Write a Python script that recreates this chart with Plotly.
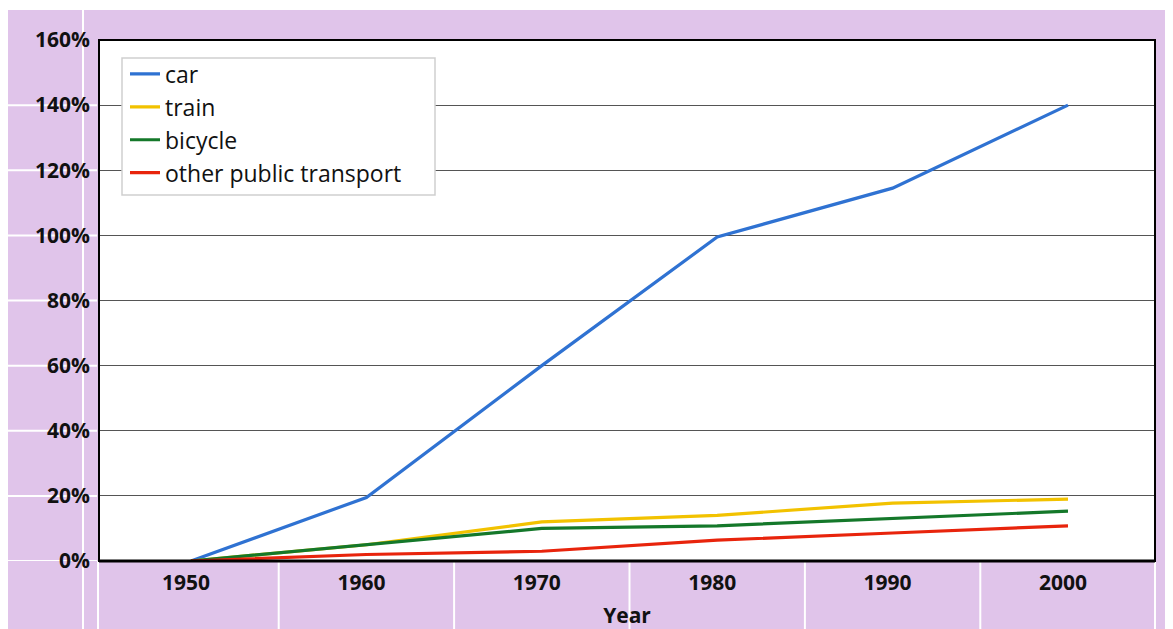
import plotly.graph_objects as go

years = [1950, 1960, 1970, 1980, 1990, 2000]
car = [0, 19.5, 60, 99.5, 114.5, 140]
train = [0, 5, 12, 14, 17.8, 19]
bicycle = [0, 5, 10, 10.8, 13, 15.3]
other = [0, 2, 3, 6.4, 8.6, 10.8]

series = [
    ("car", car, "#2f72d2"),
    ("train", train, "#f2c200"),
    ("bicycle", bicycle, "#14782a"),
    ("other public transport", other, "#e8240c"),
]

y_ticks = [0, 20, 40, 60, 80, 100, 120, 140, 160]

# page body has an 8px margin: figure placed at (8, 8)
L, R, T, B = 91, 18, 32, 68
PW, PH = 1056, 521
W, H = L + PW + R, T + PH + B

fig = go.Figure()
for name, vals, col in series:
    fig.add_trace(go.Scatter(x=years, y=vals, mode="lines", name=name,
                             line=dict(color=col, width=3.2)))

lav = "#e0c4ea"
shapes = []
shapes.append(dict(type="rect", xref="paper", yref="paper",
                   x0=-L/PW, x1=1+R/PW, y0=-B/PH, y1=1+(T-2)/PH,
                   fillcolor=lav, line=dict(width=0), layer="below"))
shapes.append(dict(type="rect", xref="paper", yref="paper",
                   x0=0, x1=1, y0=0, y1=1,
                   fillcolor="white", line=dict(width=0), layer="below"))
for xb in [1955, 1965, 1975, 1985, 1995]:
    shapes.append(dict(type="line", xref="x", yref="paper",
                       x0=xb, x1=xb, y0=-B/PH, y1=0,
                       line=dict(color="white", width=2), layer="below"))
for px in [-16, -1, 1056]:
    shapes.append(dict(type="line", xref="paper", yref="paper",
                       x0=px/PW, x1=px/PW, y0=-B/PH, y1=0 if px != -16 else 1+(T-2)/PH,
                       line=dict(color="white", width=2), layer="below"))
for t in y_ticks[:-1]:
    shapes.append(dict(type="line", xref="paper", yref="y",
                       x0=-L/PW, x1=-2/PW, y0=t, y1=t,
                       line=dict(color="white", width=2), layer="below"))
# legend box
shapes.append(dict(type="rect", xref="paper", yref="paper",
                   x0=23/PW, x1=336/PW, y0=1-155/PH, y1=1-18/PH,
                   fillcolor="white", line=dict(color="#cfcfcf", width=1.5),
                   layer="above"))
shapes.append(dict(type="rect", xref="paper", yref="paper",
                   x0=0, x1=1, y0=0, y1=1,
                   line=dict(color="black", width=2)))
shapes.append(dict(type="line", xref="paper", yref="paper",
                   x0=0, x1=1, y0=0, y1=0,
                   line=dict(color="black", width=3)))

tickfont = dict(family="Open Sans", size=21, weight=700, color="#111")

fig.update_layout(
    width=W, height=H,
    margin=dict(l=L, r=R, t=T, b=B),
    paper_bgcolor="white",
    plot_bgcolor="white",
    shapes=shapes,
    showlegend=True,
    legend=dict(x=26/PW, y=1-12.5/PH, xanchor="left", yanchor="top",
                bgcolor="rgba(0,0,0,0)", borderwidth=0,
                font=dict(family="Open Sans", size=23, color="#111"),
                itemwidth=30, tracegroupgap=0),
    font=dict(family="Open Sans", color="#111"),
)
fig.update_xaxes(range=[1944.755, 2004.96], tickvals=years,
                 ticktext=[str(y) for y in years],
                 showgrid=False, zeroline=False, showline=False,
                 automargin=False,
                 tickfont=tickfont, ticklabelstandoff=7, ticklabelshift=-5,
                 title=dict(text="Year", font=tickfont, standoff=22))
fig.update_yaxes(range=[0, 160], tickvals=y_ticks,
                 ticktext=[f"{t}%" for t in y_ticks],
                 showgrid=True, gridcolor="#555555", gridwidth=1,
                 zeroline=False, showline=False, automargin=False,
                 tickfont=tickfont, ticklabelstandoff=8)

fig.write_html("out.html")
